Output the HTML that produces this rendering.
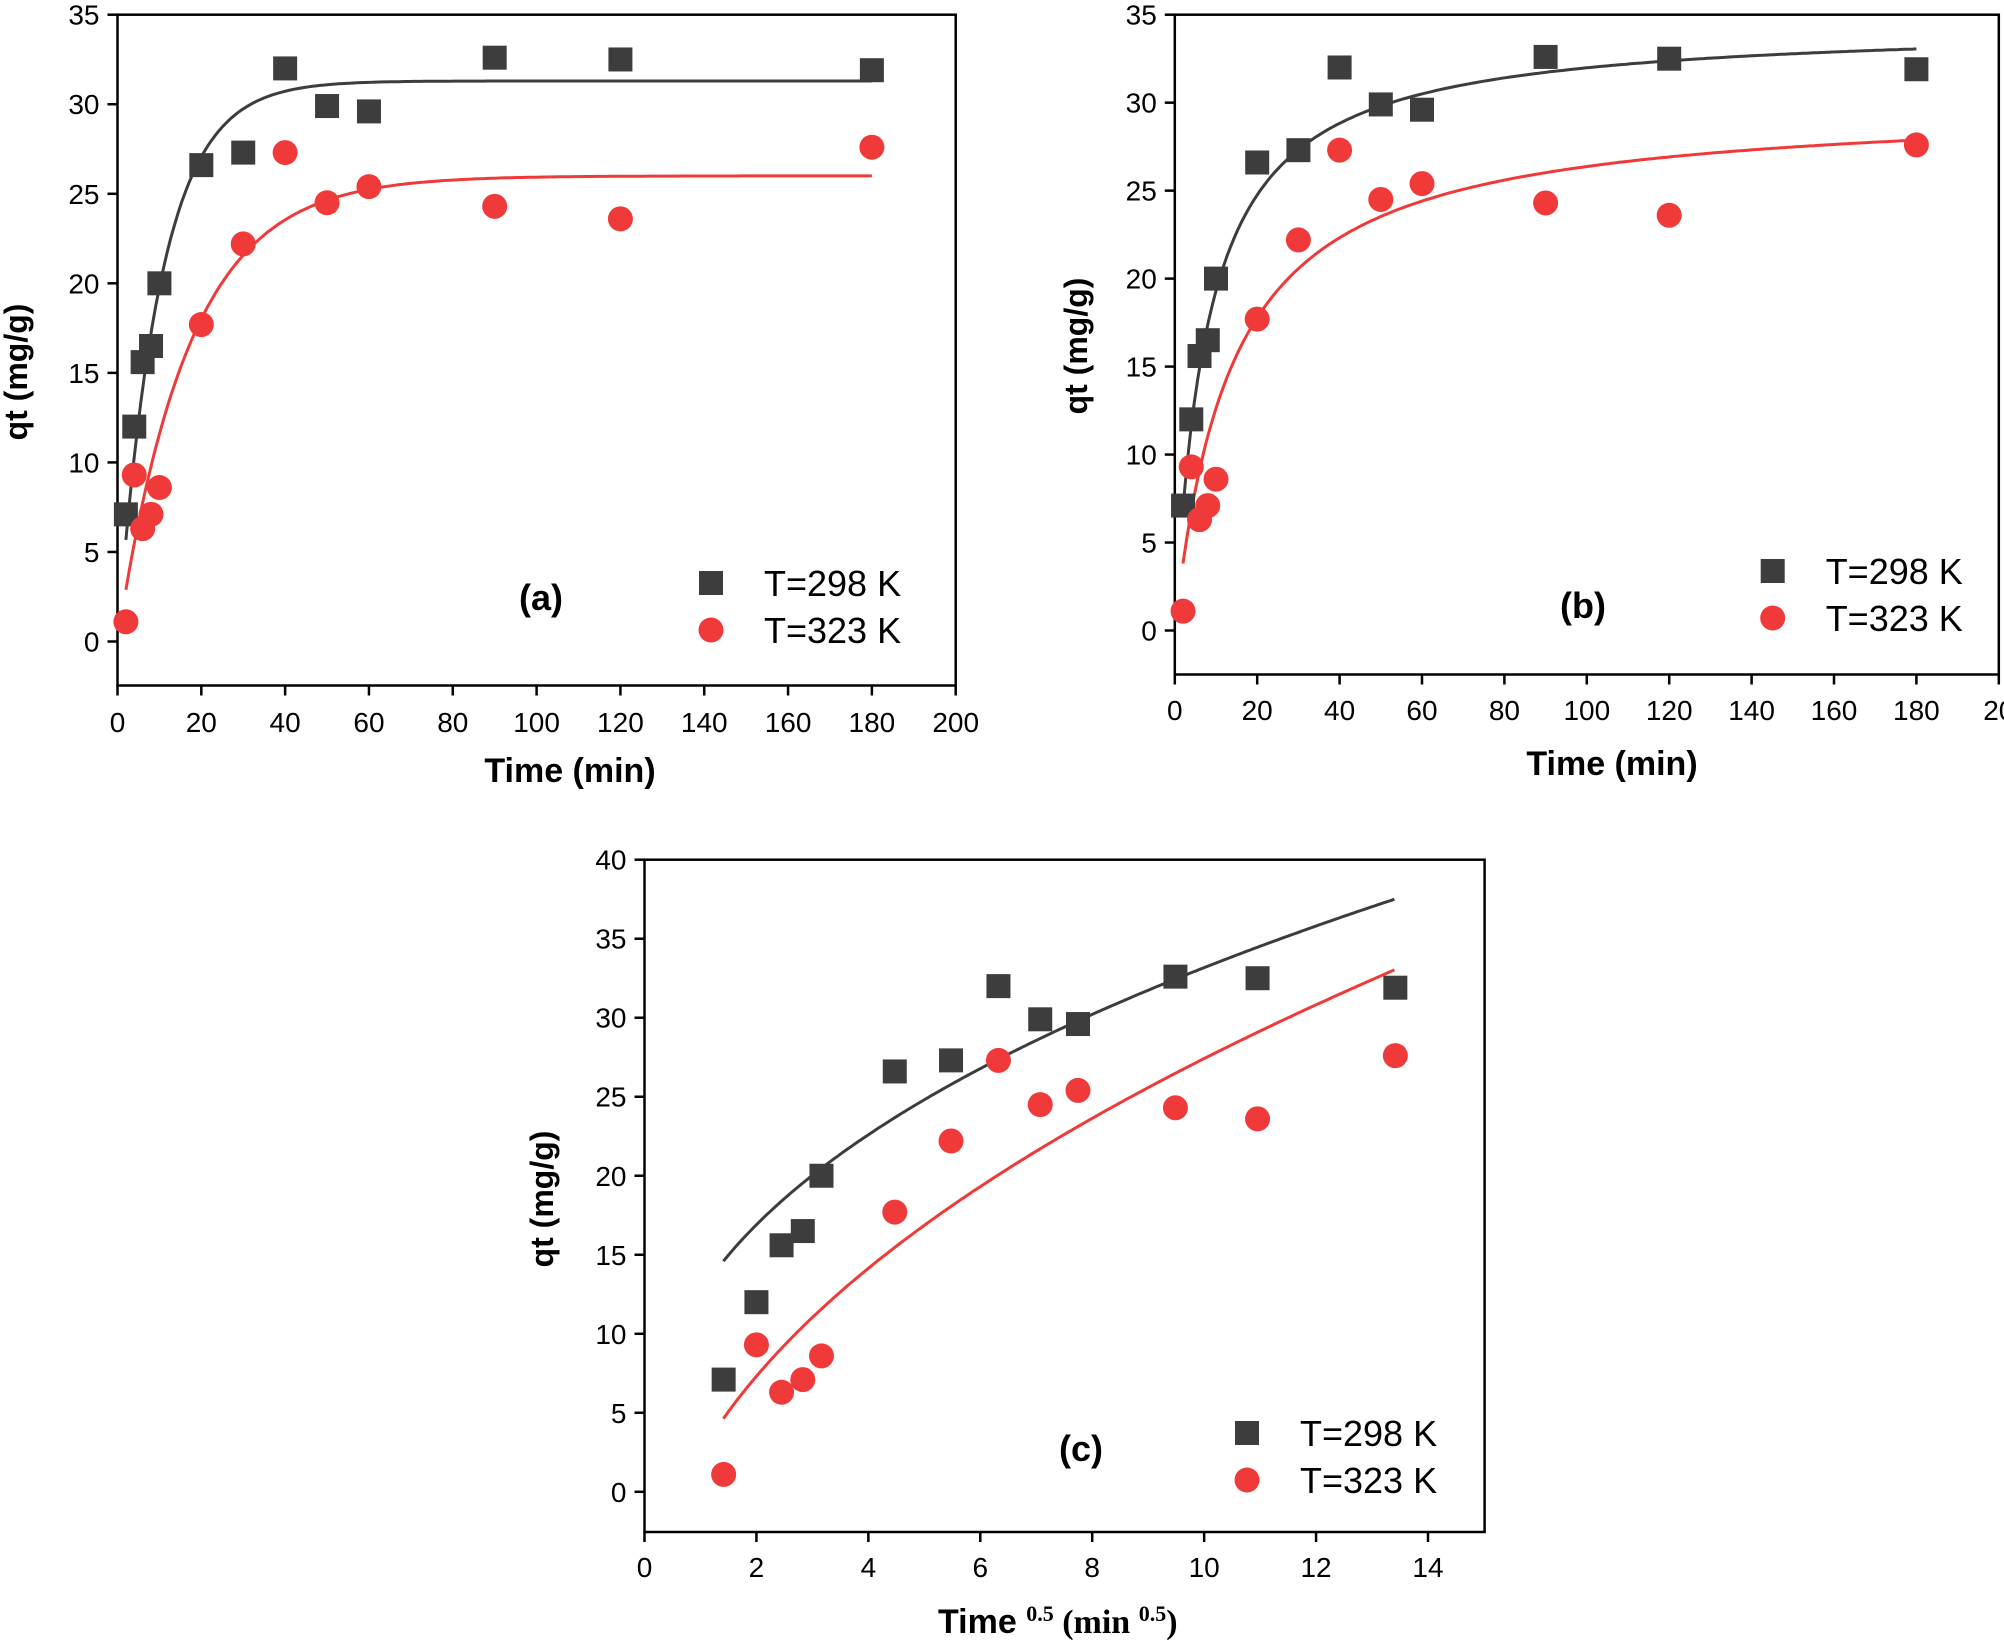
<!DOCTYPE html>
<html><head><meta charset="utf-8">
<style>
html,body{margin:0;padding:0;background:#fff;}
svg{display:block;}
text{font-family:"Liberation Sans",Arial,sans-serif;}
</style></head>
<body>
<svg id="s" width="2004" height="1644" viewBox="0 0 2004 1644" xmlns="http://www.w3.org/2000/svg"></svg>
<script>
var S=document.getElementById('s');var NS='http://www.w3.org/2000/svg';
function el(t,a,txt){var e=document.createElementNS(NS,t);for(var k in a)e.setAttribute(k,a[k]);if(txt!==undefined)e.textContent=txt;S.appendChild(e);return e;}
var T=[2,4,6,8,10,20,30,40,50,60,90,120,180];
var Q1=[7.1,12,15.6,16.5,20,26.6,27.3,32,29.9,29.6,32.6,32.5,31.9];
var Q2=[1.1,9.3,6.3,7.1,8.6,17.7,22.2,27.3,24.5,25.4,24.3,23.6,27.6];
var GRAY='#3d3d3d',RED='#f03a3a';
function panel(p){
  var X=function(v){return p.x0+(v-p.xmin)*(p.x1-p.x0)/(p.xmax-p.xmin);};
  var Y=function(v){return p.y0-(v)*(p.y0-p.yTop)/p.ymaxTick;};
  el('rect',{x:p.x0,y:p.yTop,width:p.xr-p.x0,height:p.yb-p.yTop,fill:'none',stroke:'#000','stroke-width':2.5});
  p.xt.forEach(function(v){var x=X(v);el('line',{x1:x,y1:p.yb,x2:x,y2:p.yb+10,stroke:'#000','stroke-width':2.5});
    el('text',{x:x,y:p.xly,'font-size':28,'text-anchor':'middle'},p.xlab?p.xlab(v):v);});
  p.yt.forEach(function(v){var y=Y(v);el('line',{x1:p.x0-10,y1:y,x2:p.x0,y2:y,stroke:'#000','stroke-width':2.5});
    el('text',{x:p.x0-18,y:y+10,'font-size':28,'text-anchor':'end'},v);});
  [[p.f1,GRAY],[p.f2,RED]].forEach(function(c){var pts=[];for(var i=0;i<=200;i++){var v=p.cs+(p.ce-p.cs)*i/200;pts.push(X(v).toFixed(1)+','+Y(c[0](v)).toFixed(1));}
    el('polyline',{points:pts.join(' '),fill:'none',stroke:c[1],'stroke-width':3});});
  for(var i=0;i<T.length;i++){var xv=p.sx(T[i]);
    el('rect',{x:X(xv)-12,y:Y(Q1[i])-12,width:24,height:24,fill:GRAY});
    el('circle',{cx:X(xv),cy:Y(Q2[i]),r:12.5,fill:RED});}
  el('rect',{x:p.lx-12,y:p.ly1-12,width:24,height:24,fill:GRAY});
  el('circle',{cx:p.lx,cy:p.ly2,r:12.5,fill:RED});
  el('text',{x:p.lx+53,y:p.ly1+13,'font-size':36},'T=298 K');
  el('text',{x:p.lx+53,y:p.ly2+13,'font-size':36},'T=323 K');
  el('text',{x:p.tx,y:p.ty+13,'font-size':36,'font-weight':'bold','text-anchor':'middle'},p.tag);
  el('text',{x:0,y:0,'font-size':32,'font-weight':'bold','text-anchor':'middle',transform:'translate('+(p.ylx+11)+','+p.yly+') rotate(-90)'},'qt (mg/g)');
}
function pfo(qe,k){return function(t){return qe*(1-Math.exp(-k*t));};}
function pso(qe,a){return function(t){return qe*a*t/(1+a*t);};}
var id=function(t){return t;};
panel({x0:117.5,x1:955.7,xmin:0,xmax:200,xr:955.7,yTop:14.7,y0:641.5,ymaxTick:35,yb:685.5,
  xt:[0,20,40,60,80,100,120,140,160,180,200],yt:[0,5,10,15,20,25,30,35],xly:732,
  f1:pfo(31.3,0.1),f2:pfo(26.0,0.059),cs:2,ce:180,sx:id,
  lx:711,ly1:583,ly2:630,tx:541,ty:597,tag:'(a)',ylx:16,yly:372});
el('text',{x:570,y:782,'font-size':34,'font-weight':'bold','text-anchor':'middle'},'Time (min)');
panel({x0:1174.8,x1:1998.8,xmin:0,xmax:200,xr:1998.8,yTop:14.7,y0:630.5,ymaxTick:35,yb:674.5,
  xt:[0,20,40,60,80,100,120,140,160,180,200],yt:[0,5,10,15,20,25,30,35],xly:720,xlab:function(v){return v==200?'20':v;},
  f1:pso(34.5,0.127),f2:pso(30,0.0727),cs:2,ce:180,sx:id,
  lx:1772.7,ly1:571,ly2:618,tx:1583,ty:605,tag:'(b)',ylx:1076,yly:346});
el('text',{x:1612,y:775,'font-size':34,'font-weight':'bold','text-anchor':'middle'},'Time (min)');
panel({x0:644.5,x1:1428,xmin:0,xmax:14,xr:1484.6,yTop:859.7,y0:1491.8,ymaxTick:40,yb:1532,
  xt:[0,2,4,6,8,10,12,14],yt:[0,5,10,15,20,25,30,35,40],xly:1577,
  f1:function(x){return 12.64*Math.pow(x,0.419);},f2:function(x){return 12.6*Math.pow(x,0.475)-10.2;},cs:1.41,ce:13.4,sx:function(t){return Math.sqrt(t);},
  lx:1247,ly1:1433,ly2:1480,tx:1081,ty:1448,tag:'(c)',ylx:542,yly:1199});
var t=el('text',{x:938,y:1633,'font-size':34,'font-weight':'bold'});
t.innerHTML='<tspan>Time </tspan><tspan font-family="Liberation Serif,serif" font-size="22" dy="-12">0.5</tspan><tspan font-family="Liberation Serif,serif" dy="12"> (min </tspan><tspan font-family="Liberation Serif,serif" font-size="22" dy="-12">0.5</tspan><tspan font-family="Liberation Serif,serif" dy="12">)</tspan>';
</script>
</body></html>
